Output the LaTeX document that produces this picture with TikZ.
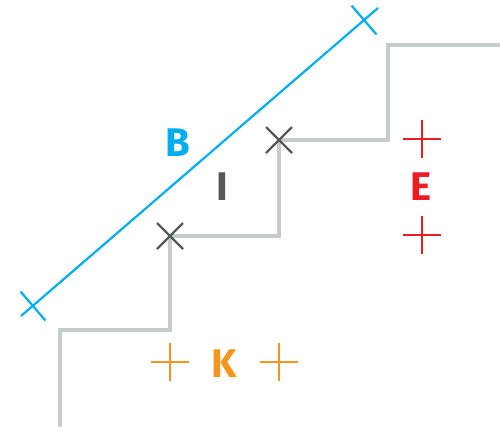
\documentclass[tikz,border=0pt]{standalone}
\usepackage{fontspec}
\setmainfont{Fira Sans}
\usetikzlibrary{calc}
\definecolor{stairgray}{HTML}{C5CCCA}
\definecolor{markgray}{HTML}{58595B}
\definecolor{bblue}{HTML}{00AEEF}
\definecolor{ered}{HTML}{ED1C24}
\definecolor{korange}{HTML}{F7941D}
\begin{document}
\begin{tikzpicture}[x=1pt,y=-1pt,
  stair/.style={draw=stairgray,line width=4.8pt,line join=miter,line cap=round},
  lbl/.style={font=\fontsize{40}{40}\selectfont\bfseries,inner sep=0pt,anchor=center},
  plusmark/.style={line width=2.2pt},
  xmark/.style={draw=markgray,line width=2.4pt}]
\useasboundingbox (0,0) rectangle (500,429);
% staircase
\coordinate (s0) at (60,425);
\coordinate (s1) at (60,330);
\coordinate (s2) at (170,330);
\coordinate (s3) at (170,236);
\coordinate (s4) at (279,236);
\coordinate (s5) at (279,140);
\coordinate (s6) at (388,140);
\coordinate (s7) at (388,45);
\coordinate (s8) at (502,45);
\draw[stair] (s0) -- (s1) -- (s2) -- (s3) -- (s4) -- (s5) -- (s6) -- (s7) -- (s8);
% blue line with end ticks
\coordinate (b0) at (21,316);
\coordinate (b1) at (378,8);
\coordinate (bt0) at (33,306);
\coordinate (bt1) at (364,20);
\draw[bblue,line width=2.2pt] (b0) -- (b1);
\draw[bblue,line width=2.2pt] ($(bt0)+(-12.4,-14.4)$) -- ($(bt0)+(12.4,14.4)$);
\draw[bblue,line width=2.2pt] ($(bt1)+(-12.4,-14.4)$) -- ($(bt1)+(12.4,14.4)$);
% gray x marks
\foreach \p in {s3,s5}{
  \draw[xmark] ($(\p)+(-13,-13)$) -- ($(\p)+(13,13)$);
  \draw[xmark] ($(\p)+(-13,13)$) -- ($(\p)+(13,-13)$);
}
% orange plus
\coordinate (k0) at (170,362);
\coordinate (k1) at (279,362);
\foreach \p in {k0,k1}{
  \draw[korange,plusmark] ($(\p)+(-19,0)$) -- ($(\p)+(19,0)$);
  \draw[korange,plusmark] ($(\p)+(0,-19)$) -- ($(\p)+(0,19)$);
}
% red plus
\coordinate (e0) at (422,139);
\coordinate (e1) at (422,235);
\foreach \p in {e0,e1}{
  \draw[ered,plusmark] ($(\p)+(-19,0)$) -- ($(\p)+(19,0)$);
  \draw[ered,plusmark] ($(\p)+(0,-19)$) -- ($(\p)+(0,19)$);
}
% labels
\node[lbl,text=bblue] (B) at (178,143) {B};
\node[lbl,text=markgray] (I) at (222,187) {I};
\node[lbl,text=ered] (E) at (421,187) {E};
\node[lbl,text=korange] (K) at (224,364) {K};
\end{tikzpicture}
\end{document}
